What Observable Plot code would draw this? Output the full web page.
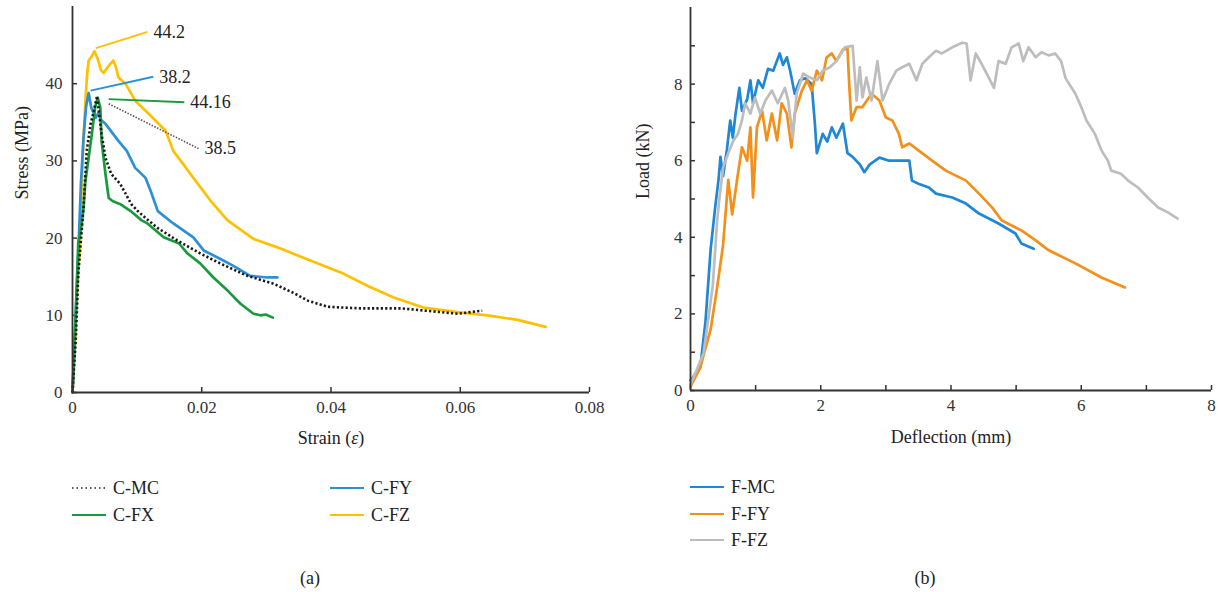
<!DOCTYPE html>
<html><head><meta charset="utf-8">
<script src="https://cdn.jsdelivr.net/npm/d3@7"></script>
<script src="https://cdn.jsdelivr.net/npm/@observablehq/plot@0.6"></script>
<style>
body{margin:0;background:#fff;}
#wrap{position:relative;width:1218px;height:592px;font-family:"Liberation Serif",serif;color:#222;overflow:hidden;}
.pl{position:absolute;top:0;}
.leg{position:absolute;font-size:18px;line-height:20px;height:20px;display:flex;align-items:center;white-space:nowrap;}
.leg svg{margin-right:7px;}
.cap{position:absolute;font-size:18px;transform:translate(-50%,-50%);}
</style>
</head><body>
<div id="wrap"></div>
<script>
// ---------- (a) compression: stress (MPa) vs strain ----------
const cmcPoints = [[0,0],[0.0005,6.7],[0.0009,15.4],[0.0017,23.9],[0.0022,31.3],[0.0028,34.8],[0.0032,36.1],[0.0038,38.4],[0.0045,33.5],[0.0051,30.4],[0.006,28.3],[0.0074,27],[0.0091,24.4],[0.0101,23.5],[0.0113,22.6],[0.0132,21.3],[0.0162,19.7],[0.0198,18],[0.0229,16.7],[0.0271,15.1],[0.0311,14.1],[0.0342,12.9],[0.0364,11.9],[0.0395,11.1],[0.0446,10.9],[0.0508,10.9],[0.0559,10.5],[0.0596,10.2],[0.0634,10.6]];
const cfyPoints = [[0,0],[0.0004,8],[0.0009,18],[0.0013,27],[0.0017,33],[0.0021,37],[0.0025,38.8],[0.0029,36.9],[0.0036,35.6],[0.004,36.2],[0.0044,35.3],[0.0051,34.8],[0.0071,32.6],[0.0084,31.3],[0.0097,29.1],[0.0113,27.8],[0.0121,26.1],[0.0132,23.5],[0.0156,21.9],[0.0187,20.1],[0.0203,18.4],[0.0229,17.3],[0.0249,16.4],[0.0275,15.1],[0.0302,14.9],[0.0317,14.9]];
const cfxPoints = [[0,0],[0.0004,8],[0.0009,19.5],[0.0013,21],[0.0017,23.9],[0.002,27.4],[0.0025,30.4],[0.003,33.5],[0.0035,36.9],[0.0039,38.2],[0.0043,36.9],[0.0045,32.6],[0.0051,28.3],[0.0056,25.2],[0.0062,24.8],[0.0074,24.4],[0.009,23.5],[0.0107,22.3],[0.0116,21.9],[0.0141,20.1],[0.0165,19.3],[0.0178,18],[0.0198,16.7],[0.0218,14.9],[0.024,13.2],[0.026,11.5],[0.028,10.2],[0.0291,10],[0.0299,10.1],[0.031,9.7]];
const cfzPoints = [[0,0],[0.0004,6.7],[0.0007,13],[0.0012,19.7],[0.0014,26],[0.0017,32.6],[0.002,37.8],[0.0023,41.6],[0.0025,43],[0.003,43.6],[0.0034,44.2],[0.0039,43.2],[0.0044,41.8],[0.0048,41.4],[0.0055,42.2],[0.0063,43],[0.0067,42.2],[0.0071,40.8],[0.0082,40],[0.0097,37.8],[0.0118,36.1],[0.0144,33.9],[0.0156,31.3],[0.0187,27.8],[0.0214,24.8],[0.024,22.3],[0.028,19.9],[0.0317,18.8],[0.0368,17.1],[0.0419,15.4],[0.0457,13.8],[0.0497,12.3],[0.0543,11],[0.0596,10.4],[0.0642,10],[0.0689,9.4],[0.0732,8.5]];
const strainTicks = [0, 0.02, 0.04, 0.06, 0.08];
const stressTicks = [0, 10, 20, 30, 40];
const annLabels = ["44.2", "38.2", "44.16", "38.5"];
const annFrom = [[0.0036,44.6],[0.0028,39.1],[0.0056,38.0],[0.0056,37.4]];
const annTo = [[0.0116,46.7],[0.0125,40.9],[0.0173,37.6],[0.0195,31.6]];
const annColors = ["#FFC000", "#2D8FD5", "#1A9A3E", "#555555"];

// ---------- (b) flexure: load (kN) vs deflection (mm) ----------
const fmcPoints = [[0,0.26],[0.15,0.6],[0.23,1.8],[0.31,3.7],[0.38,4.8],[0.43,5.5],[0.46,6.1],[0.5,5.6],[0.56,6.3],[0.61,7.05],[0.65,6.6],[0.69,7.2],[0.75,7.9],[0.79,7.3],[0.87,7.6],[0.92,8.1],[0.96,7.5],[1.04,8.1],[1.11,7.9],[1.19,8.4],[1.27,8.35],[1.37,8.8],[1.42,8.5],[1.48,8.7],[1.53,8.35],[1.6,7.75],[1.68,8.1],[1.76,8.15],[1.86,8.0],[1.91,6.97],[1.94,6.2],[2.03,6.7],[2.1,6.5],[2.17,6.87],[2.24,6.6],[2.34,6.97],[2.41,6.2],[2.49,6.1],[2.6,5.9],[2.67,5.7],[2.75,5.9],[2.9,6.08],[3.05,6.0],[3.36,6.0],[3.4,5.48],[3.5,5.4],[3.66,5.3],[3.77,5.14],[4.02,5.04],[4.23,4.88],[4.43,4.62],[4.73,4.36],[4.99,4.1],[5.08,3.84],[5.27,3.7]];
const ffyPoints = [[0,0.1],[0.15,0.6],[0.31,1.6],[0.41,2.7],[0.5,3.8],[0.58,5.5],[0.64,4.6],[0.72,5.56],[0.79,6.35],[0.87,6.0],[0.92,6.87],[0.96,5.04],[1.02,6.87],[1.1,7.3],[1.17,6.53],[1.25,7.23],[1.33,6.53],[1.4,7.5],[1.48,7.23],[1.55,6.35],[1.6,7.23],[1.71,7.83],[1.79,8.1],[1.86,7.83],[1.94,8.35],[2.02,8.1],[2.09,8.7],[2.17,8.8],[2.24,8.6],[2.34,8.9],[2.41,8.93],[2.44,7.9],[2.47,7.05],[2.55,7.4],[2.64,7.4],[2.78,7.75],[2.9,7.57],[3.0,7.13],[3.1,7.05],[3.2,6.7],[3.25,6.35],[3.36,6.45],[3.5,6.27],[3.71,6.0],[3.92,5.74],[4.23,5.48],[4.43,5.14],[4.63,4.78],[4.78,4.44],[5.08,4.18],[5.3,3.92],[5.5,3.66],[5.91,3.32],[6.31,2.95],[6.67,2.69]];
const ffzPoints = [[0,0.15],[0.2,0.97],[0.34,2.7],[0.41,4.44],[0.44,4.96],[0.5,5.82],[0.58,6.2],[0.66,6.53],[0.73,6.7],[0.79,7.05],[0.84,7.5],[0.92,7.23],[0.99,7.65],[1.07,7.23],[1.15,7.57],[1.25,7.83],[1.34,7.5],[1.45,7.9],[1.5,7.57],[1.57,6.6],[1.63,7.75],[1.73,8.27],[1.83,8.17],[1.94,8.1],[2.03,8.35],[2.14,8.44],[2.24,8.6],[2.37,8.96],[2.49,9.0],[2.55,7.57],[2.6,8.44],[2.64,7.65],[2.7,8.17],[2.78,7.57],[2.87,8.6],[2.95,7.57],[3.05,8.0],[3.16,8.35],[3.25,8.44],[3.36,8.53],[3.47,8.1],[3.56,8.53],[3.66,8.7],[3.77,8.87],[3.86,8.8],[4.02,8.96],[4.17,9.08],[4.24,9.06],[4.3,8.1],[4.38,8.8],[4.47,8.53],[4.58,8.17],[4.66,7.9],[4.73,8.6],[4.84,8.53],[4.93,8.96],[5.04,9.06],[5.11,8.6],[5.19,8.96],[5.3,8.7],[5.39,8.83],[5.5,8.75],[5.6,8.8],[5.69,8.6],[5.76,8.15],[5.91,7.75],[6.0,7.4],[6.08,7.05],[6.21,6.7],[6.31,6.27],[6.41,6.0],[6.46,5.74],[6.61,5.66],[6.72,5.48],[6.87,5.3],[7.02,5.04],[7.18,4.78],[7.33,4.65],[7.48,4.49]];
const deflTicks = [0,1,2,3,4,5,6,7,8];
const loadTicks = [0,1,2,3,4,5,6,7,8,9];

const legA = ["C-MC", "C-FY", "C-FX", "C-FZ"];
const legAColors = ["#222222", "#2D8FD5", "#1A9A3E", "#FFC000"];
const legB = ["F-MC", "F-FY", "F-FZ"];
const legBColors = ["#1F88D6", "#F39019", "#BDBDBD"];

const axisColor = "#333";
const font = {fontFamily: "Liberation Serif, serif", fontSize: "17px", color: "#222", background: "white", overflow: "visible"};

function italicEps(svg) {
  d3.select(svg).selectAll("text").filter(function(){ return this.textContent === "Strain (ε)"; }).each(function(){
    const t = d3.select(this); t.text(null);
    t.append("tspan").text("Strain (");
    t.append("tspan").attr("font-style", "italic").text("ε");
    t.append("tspan").text(")");
  });
}

const plotA = Plot.plot({
  width: 610, height: 460,
  marginLeft: 72, marginRight: 21, marginTop: 6, marginBottom: 68,
  style: font,
  x: {domain: [0, 0.08]},
  y: {domain: [0, 50]},
  marks: [
    Plot.axisX({ticks: strainTicks, tickSize: -5, tickPadding: 13, tickFormat: d => String(d), label: null, color: axisColor, strokeWidth: 1.5}),
    Plot.axisY({ticks: stressTicks, tickSize: -5, tickPadding: 15, label: null, color: axisColor, strokeWidth: 1.5}),
    Plot.line(cfzPoints, {x: d => d[0], y: d => d[1], stroke: annColors[0], strokeWidth: 2.7}),
    Plot.line(cfyPoints, {x: d => d[0], y: d => d[1], stroke: annColors[1], strokeWidth: 2.7}),
    Plot.line(cfxPoints, {x: d => d[0], y: d => d[1], stroke: annColors[2], strokeWidth: 2.7}),
    Plot.line(cmcPoints, {x: d => d[0], y: d => d[1], stroke: "#1a1a1a", strokeWidth: 2.6, strokeDasharray: "2.2 2.2", strokeLinecap: "butt"}),
    Plot.link(d3.range(3), {x1: i => annFrom[i][0], y1: i => annFrom[i][1], x2: i => annTo[i][0], y2: i => annTo[i][1], stroke: i => annColors[i], strokeWidth: 1.8}),
    Plot.link([3], {x1: i => annFrom[i][0], y1: i => annFrom[i][1], x2: i => annTo[i][0], y2: i => annTo[i][1], stroke: annColors[3], strokeWidth: 1.6, strokeDasharray: "1.5 1.5", strokeLinecap: "butt"}),
    Plot.text(d3.range(4), {x: i => annTo[i][0], y: i => annTo[i][1], text: i => annLabels[i], textAnchor: "start", dx: 6, fontSize: 18, fill: "#222"}),
    Plot.ruleX([0], {stroke: axisColor, strokeWidth: 1.8}),
    Plot.ruleY([0], {stroke: axisColor, strokeWidth: 1.8}),
    Plot.text(["Strain (ε)"], {frameAnchor: "bottom", dy: 51, fontSize: 18, fill: "#222"}),
    Plot.text(["Stress (MPa)"], {frameAnchor: "left", dx: -50, rotate: -90, fontSize: 18, fill: "#222"})
  ]
});
italicEps(plotA);

const plotB = Plot.plot({
  width: 608, height: 460,
  marginLeft: 80, marginRight: 7, marginTop: 7, marginBottom: 70,
  style: font,
  x: {domain: [0, 8]},
  y: {domain: [0, 10]},
  marks: [
    Plot.axisX({ticks: deflTicks, tickSize: -5, tickPadding: 13, tickFormat: d => d % 2 === 0 ? String(d) : "", label: null, color: axisColor, strokeWidth: 1.5}),
    Plot.axisY({ticks: loadTicks, tickSize: -5, tickPadding: 13, tickFormat: d => d % 2 === 0 ? String(d) : "", label: null, color: axisColor, strokeWidth: 1.5}),
    Plot.line(fmcPoints, {x: d => d[0], y: d => d[1], stroke: legBColors[0], strokeWidth: 2.7}),
    Plot.line(ffyPoints, {x: d => d[0], y: d => d[1], stroke: legBColors[1], strokeWidth: 2.7}),
    Plot.line(ffzPoints, {x: d => d[0], y: d => d[1], stroke: legBColors[2], strokeWidth: 2.7}),
    Plot.ruleX([0], {stroke: axisColor, strokeWidth: 1.8}),
    Plot.ruleY([0], {stroke: axisColor, strokeWidth: 1.8}),
    Plot.text(["Deflection (mm)"], {frameAnchor: "bottom", dy: 52, fontSize: 18, fill: "#222"}),
    Plot.text(["Load (kN)"], {frameAnchor: "left", dx: -47, rotate: -90, fontSize: 18, fill: "#222"})
  ]
});

const wrap = document.getElementById("wrap");
const da = document.createElement("div"); da.className = "pl"; da.style.left = "0px"; da.appendChild(plotA); wrap.appendChild(da);
const db = document.createElement("div"); db.className = "pl"; db.style.left = "610px"; db.appendChild(plotB); wrap.appendChild(db);

function legendItem(name, color, left, cy, dotted) {
  const el = document.createElement("div");
  el.className = "leg";
  el.style.left = left + "px";
  el.style.top = (cy - 10) + "px";
  el.innerHTML = `<svg width="34" height="6"><line x1="0" y1="3" x2="34" y2="3" stroke="${color}" stroke-width="${dotted ? 1.6 : 1.8}" ${dotted ? 'stroke-dasharray="1.5 3"' : ''}/></svg><span>${name}</span>`;
  wrap.appendChild(el);
}
const legAPos = [[72, 488], [330, 488], [72, 515], [330, 515]];
legA.forEach((n, i) => legendItem(n, legAColors[i], legAPos[i][0], legAPos[i][1], i === 0));
legB.forEach((n, i) => legendItem(n, legBColors[i], 690, 487 + i * 26.5, false));

[["(a)", 310], ["(b)", 925]].forEach(([t, x]) => {
  const c = document.createElement("div"); c.className = "cap"; c.textContent = t;
  c.style.left = x + "px"; c.style.top = "578px"; wrap.appendChild(c);
});
</script>
</body></html>
